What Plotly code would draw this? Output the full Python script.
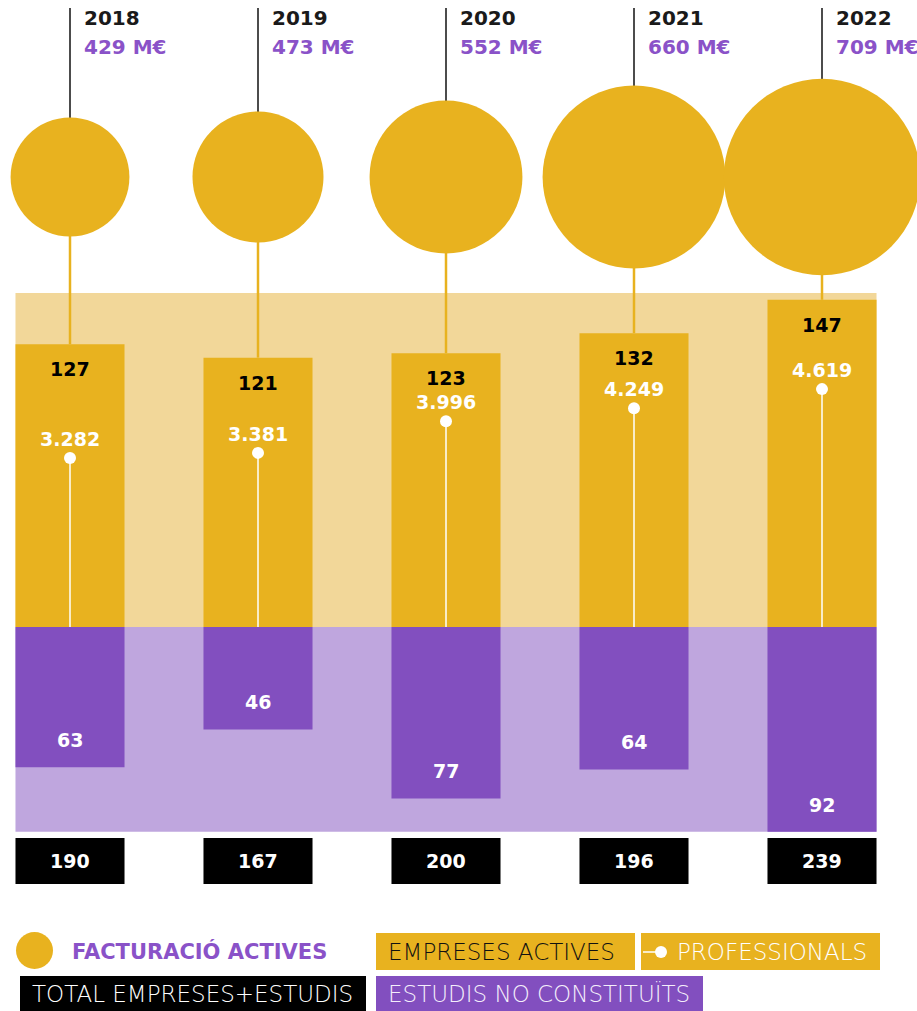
import plotly.graph_objects as go

# ---- data ----
years = ["2018", "2019", "2020", "2021", "2022"]
facturacio = [429, 473, 552, 660, 709]          # M€
empreses_actives = [127, 121, 123, 132, 147]
estudis_no_constituits = [63, 46, 77, 64, 92]
professionals = [3282, 3381, 3996, 4249, 4619]
totals = [190, 167, 200, 196, 239]

# ---- style ----
YELLOW = "#E8B21F"
YELLOW_LIGHT = "#F2D799"
PURPLE = "#824FBF"
PURPLE_LIGHT = "#BFA6DE"
PURPLE_TEXT = "#8A52C8"
FONT = "DejaVu Sans"

W, H = 917, 1011
BASE_PX = 627            # baseline of the stacked bars, from the top
PX_PER_UNIT = 2.226      # company count scale
PX_PER_PROF = 0.0515     # professionals scale
X_STEP = 188             # pixels between year columns
X0_PX = 70               # first column centre
BAR_W = 0.58
BAND_TOP = 150           # upper limit of the light yellow band


def ydata(p):
    return (BASE_PX - p) / PX_PER_UNIT


def ypaper(p):
    return 1 - p / H


def xpaper(p):
    return p / W


xs = list(range(len(years)))
circle_y = ydata(177)
stem_top = ydata(8)

fig = go.Figure()

# yellow bars (empreses actives) upward, purple bars (estudis) downward
fig.add_trace(go.Bar(x=xs, y=empreses_actives, width=BAR_W,
                     marker=dict(color=YELLOW, line=dict(width=0)),
                     hoverinfo="skip"))
fig.add_trace(go.Bar(x=xs, y=[-v for v in estudis_no_constituits], width=BAR_W,
                     marker=dict(color=PURPLE, line=dict(width=0)),
                     hoverinfo="skip"))

# professionals: white stem + dot on a secondary axis
lx, ly = [], []
for i, v in enumerate(professionals):
    lx += [i, i, None]
    ly += [0, v, None]
fig.add_trace(go.Scatter(x=lx, y=ly, yaxis="y2", mode="lines",
                         line=dict(color="white", width=1.5), hoverinfo="skip"))
fig.add_trace(go.Scatter(x=xs, y=professionals, yaxis="y2", mode="markers",
                         marker=dict(color="white", size=12), hoverinfo="skip"))

# facturació circles, diameter proportional to revenue
fig.add_trace(go.Scatter(x=xs, y=[circle_y] * len(xs), mode="markers",
                         marker=dict(color=YELLOW, size=[0.277 * v for v in facturacio],
                                     sizemode="diameter", line=dict(width=0), opacity=1),
                         hoverinfo="skip"))

shapes = []
x_left = -BAR_W / 2
x_right = len(xs) - 1 + BAR_W / 2
shapes.append(dict(type="rect", xref="x", yref="y", x0=x_left, x1=x_right, y0=0, y1=BAND_TOP,
                   fillcolor=YELLOW_LIGHT, line=dict(width=0), layer="below"))
shapes.append(dict(type="rect", xref="x", yref="y", x0=x_left, x1=x_right,
                   y0=-max(estudis_no_constituits), y1=0,
                   fillcolor=PURPLE_LIGHT, line=dict(width=0), layer="below"))
for i, v in enumerate(empreses_actives):
    shapes.append(dict(type="line", xref="x", yref="y", x0=i, x1=i, y0=stem_top, y1=circle_y,
                       line=dict(color="#111111", width=1.5), layer="below"))
    shapes.append(dict(type="line", xref="x", yref="y", x0=i, x1=i, y0=circle_y, y1=v,
                       line=dict(color=YELLOW, width=2.5), layer="below"))

annotations = []
for i in xs:
    annotations.append(dict(x=i, xref="x", y=ypaper(18), yref="paper", xshift=12,
                            text=f"<b>{years[i]}</b>", showarrow=False, xanchor="left",
                            yanchor="middle", font=dict(family=FONT, size=20, color="#1a1a1a")))
    annotations.append(dict(x=i, xref="x", y=ypaper(47), yref="paper", xshift=12,
                            text=f"<b>{facturacio[i]} M€</b>", showarrow=False, xanchor="left",
                            yanchor="middle", font=dict(family=FONT, size=20, color=PURPLE_TEXT)))
    annotations.append(dict(x=i, y=empreses_actives[i], yshift=-25, text=f"<b>{empreses_actives[i]}</b>",
                            showarrow=False, yanchor="middle",
                            font=dict(family=FONT, size=19, color="#000000")))
    prof_txt = f"{professionals[i]:,}".replace(",", ".")
    annotations.append(dict(x=i, y=professionals[i], yref="y2", yshift=19, text=f"<b>{prof_txt}</b>",
                            showarrow=False, yanchor="middle",
                            font=dict(family=FONT, size=19, color="white")))
    annotations.append(dict(x=i, y=-estudis_no_constituits[i], yshift=27,
                            text=f"<b>{estudis_no_constituits[i]}</b>", showarrow=False,
                            yanchor="middle", font=dict(family=FONT, size=19, color="white")))
    # total boxes
    shapes.append(dict(type="rect", xref="x", yref="paper", x0=i - BAR_W / 2, x1=i + BAR_W / 2,
                       y0=ypaper(884), y1=ypaper(838), fillcolor="black", line=dict(width=0)))
    annotations.append(dict(x=i, y=ypaper(861), yref="paper", text=f"<b>{totals[i]}</b>",
                            showarrow=False, yanchor="middle",
                            font=dict(family=FONT, size=19, color="white")))

# ---- legend ----
shapes.append(dict(type="circle", xref="paper", yref="paper",
                   x0=xpaper(16), x1=xpaper(53), y0=ypaper(969), y1=ypaper(932),
                   fillcolor=YELLOW, line=dict(width=0)))
annotations.append(dict(x=xpaper(70), y=ypaper(951), xref="paper", yref="paper",
                        text="<b>FACTURACIÓ ACTIVES</b>", showarrow=False, xanchor="left",
                        yanchor="middle", font=dict(family=FONT, size=21, color=PURPLE_TEXT)))

legend_boxes = [
    (376, 635, 933, 970, YELLOW, "EMPRESES ACTIVES", "#111111", 386),
    (641, 880, 933, 970, YELLOW, "PROFESSIONALS", "white", 675),
    (20, 366, 976, 1011, "black", "TOTAL EMPRESES+ESTUDIS", "white", 30),
    (376, 703, 976, 1011, PURPLE, "ESTUDIS NO CONSTITUÏTS", "#f4eefb", 386),
]
for x0, x1, y0, y1, fill, label, color, tx in legend_boxes:
    shapes.append(dict(type="rect", xref="paper", yref="paper",
                       x0=xpaper(x0), x1=xpaper(x1), y0=ypaper(y1), y1=ypaper(y0),
                       fillcolor=fill, line=dict(width=0)))
    annotations.append(dict(x=xpaper(tx), y=ypaper((y0 + y1) / 2), xref="paper", yref="paper",
                            text=label, showarrow=False, xanchor="left", yanchor="middle",
                            font=dict(family=FONT, size=23, color=color, weight=200)))
# line + dot symbol inside the professionals key
shapes.append(dict(type="line", xref="paper", yref="paper", x0=xpaper(643), x1=xpaper(660),
                   y0=ypaper(952), y1=ypaper(952), line=dict(color="white", width=1.5)))
shapes.append(dict(type="circle", xref="paper", yref="paper", x0=xpaper(655), x1=xpaper(667),
                   y0=ypaper(958), y1=ypaper(946), fillcolor="white", line=dict(width=0)))

x_range = [-X0_PX / X_STEP, (W - X0_PX) / X_STEP]
fig.update_layout(
    width=W, height=H,
    margin=dict(l=0, r=0, t=0, b=0),
    paper_bgcolor="white", plot_bgcolor="white",
    showlegend=False, barmode="overlay",
    xaxis=dict(range=x_range, visible=False, fixedrange=True),
    yaxis=dict(range=[-(H - BASE_PX) / PX_PER_UNIT, BASE_PX / PX_PER_UNIT],
               visible=False, fixedrange=True),
    yaxis2=dict(range=[-(H - BASE_PX) / PX_PER_PROF, BASE_PX / PX_PER_PROF],
                overlaying="y", visible=False, fixedrange=True),
    shapes=shapes,
    annotations=annotations,
)

fig.write_html("out.html", config={"displayModeBar": False})
